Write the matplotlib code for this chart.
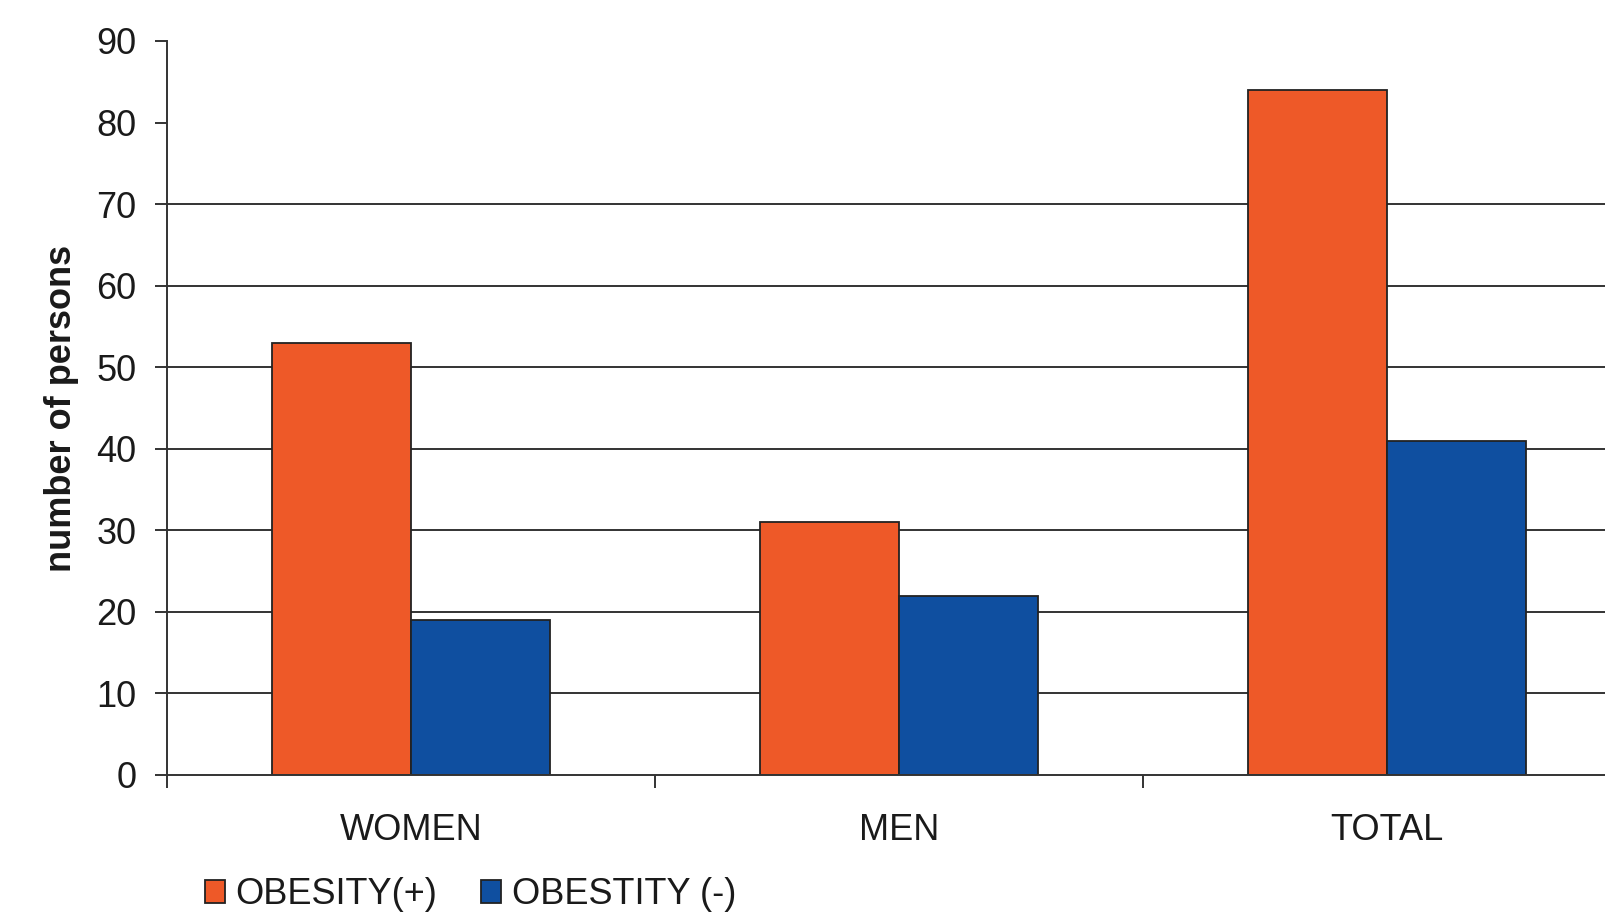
import numpy as np
import matplotlib
matplotlib.use('Agg')
import matplotlib.pyplot as plt
from matplotlib.patches import Patch

plt.rcParams['font.family'] = ['Liberation Sans', 'DejaVu Sans']

# Data
categories = ['WOMEN', 'MEN', 'TOTAL']
obesity_pos = [53, 31, 84]
obesity_neg = [19, 22, 41]
series_names = ['OBESITY(+)', 'OBESTITY (-)']
yticks = [0, 10, 20, 30, 40, 50, 60, 70, 80, 90]
grid_levels = yticks[1:8]  # only 10..70 have gridlines

col_pos = '#EE5928'
col_neg = '#0F4FA0'
txt_col = '#1a1a1a'
fs = 26

fig = plt.figure(figsize=(16.06, 9.17), dpi=100)
W, H = 1606, 917
# axes extends past the right edge of the figure (the original is cropped)
ax = fig.add_axes([167/W, 1-775/H, 3*488/W, (775-41)/H])

x = np.arange(len(categories))
w = 0.285
for g in grid_levels:
    ax.axhline(g, color='#333333', lw=1.4, zorder=1)
ax.bar(x - w/2, obesity_pos, w, color=col_pos, edgecolor='#222222', lw=1.3, zorder=2)
ax.bar(x + w/2, obesity_neg, w, color=col_neg, edgecolor='#222222', lw=1.3, zorder=2)

ax.set_xlim(-0.5, len(categories) - 0.5)
ax.set_ylim(0, 90)
ax.set_yticks(yticks)
ax.set_yticklabels([str(v) for v in yticks], fontsize=fs, color=txt_col)

# ticks at category boundaries, labels centred
ax.set_xticks(np.arange(len(categories) + 1) - 0.5)
ax.set_xticklabels([])
ax.set_xticks(x, minor=True)
ax.set_xticklabels(categories, minor=True, fontsize=fs, color=txt_col)
ax.tick_params(axis='x', which='minor', length=0, pad=27)
ax.tick_params(axis='x', which='major', length=9, width=1.4, color='#333333')
ax.tick_params(axis='y', length=9, width=1.4, color='#333333', pad=13)

for s in ['top', 'right']:
    ax.spines[s].set_visible(False)
for s in ['left', 'bottom']:
    ax.spines[s].set_color('#333333')
    ax.spines[s].set_linewidth(1.4)
ax.spines['bottom'].set_zorder(3)

ax.set_ylabel('number of persons', fontsize=fs, fontweight='bold', color=txt_col,
              va='center')
ax.yaxis.set_label_coords(-105/(3*488), 0.5)

handles = [Patch(facecolor=col_pos, edgecolor='#222222', lw=1.3),
           Patch(facecolor=col_neg, edgecolor='#222222', lw=1.3)]
leg = fig.legend(handles, series_names, loc='center left',
                 bbox_to_anchor=(205/W, 1-895/H), ncol=2, frameon=False,
                 fontsize=26, handlelength=0.55, handleheight=0.62,
                 handletextpad=0.3, columnspacing=1.2, borderpad=0,
                 borderaxespad=0)
for t in leg.get_texts():
    t.set_color(txt_col)

fig.savefig('out.png', dpi=100)
